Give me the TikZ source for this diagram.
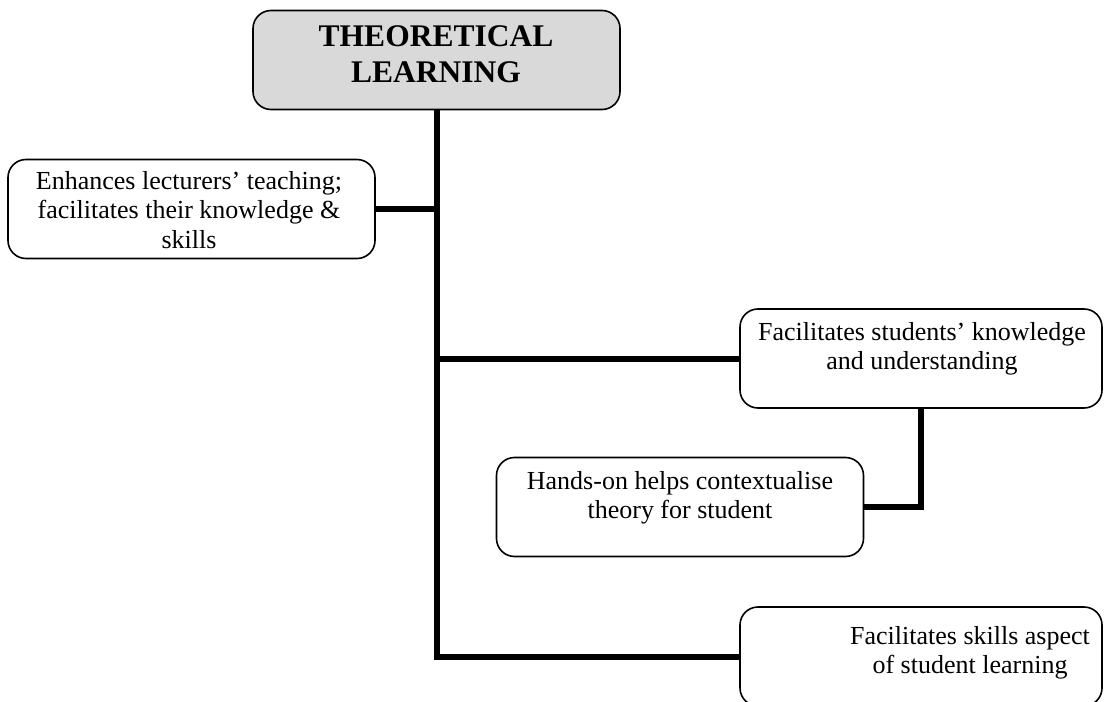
\documentclass[tikz,border=0pt]{standalone}
\usepackage{fontspec}
\setmainfont{Liberation Serif}
\definecolor{titlegray}{HTML}{D9D9D9}
\tikzset{
  card/.style={draw, line width=1.6bp, rounded corners=18bp, fill=white,
    minimum width=367bp, minimum height=99bp, inner sep=0pt},
  rcard/.style={card, minimum width=362bp},
  cardtext/.style={align=center, inner sep=0pt, anchor=base,
    font=\fontsize{26bp}{29bp}\selectfont},
  titletext/.style={align=center, inner sep=0pt, anchor=base,
    font=\fontsize{31.5bp}{36bp}\selectfont\bfseries},
  spine/.style={line width=6bp}
}
\begin{document}
\begin{tikzpicture}[x=1bp, y=-1bp]
  \useasboundingbox (0,0) rectangle (1104,702);
  \fill[white] (0,0) rectangle (1104,702);
  \clip (0,0) rectangle (1104,702);

  % boxes
  \node[card, fill=titlegray] (top) at (436.5,60) {};
  \node[card] (b1) at (191.5,209) {};
  \node[rcard] (b2) at (921,358.5) {};
  \node[card] (b3) at (680,507) {};
  \node[rcard] (b4) at (921,656.5) {};

  % texts (anchored at the baseline of the last line)
  \node[titletext] (ttop) at (436,83) {THEORETICAL\\LEARNING};
  \node[cardtext] (t1) at (189,248) {Enhances lecturers’ teaching;\\facilitates their knowledge \&\\skills};
  \node[cardtext] (t2) at (922,369) {Facilitates students’ knowledge\\and understanding};
  \node[cardtext] (t3) at (680,518) {Hands-on helps contextualise\\theory for student};
  \node[cardtext] (t4) at (970,673) {Facilitates skills aspect\\of student learning};

  % connectors
  \coordinate (jb1) at (top.south |- b1.east);
  \coordinate (jb2) at (top.south |- b2.west);
  \coordinate (jb4) at (top.south |- b4.west);
  \draw[spine] (top.south) -- (jb4) -- (b4.west);
  \draw[spine] (b1.east) -- (jb1);
  \draw[spine] (jb2) -- (b2.west);
  \draw[spine] (b2.south) |- (b3.east);
\end{tikzpicture}
\end{document}
